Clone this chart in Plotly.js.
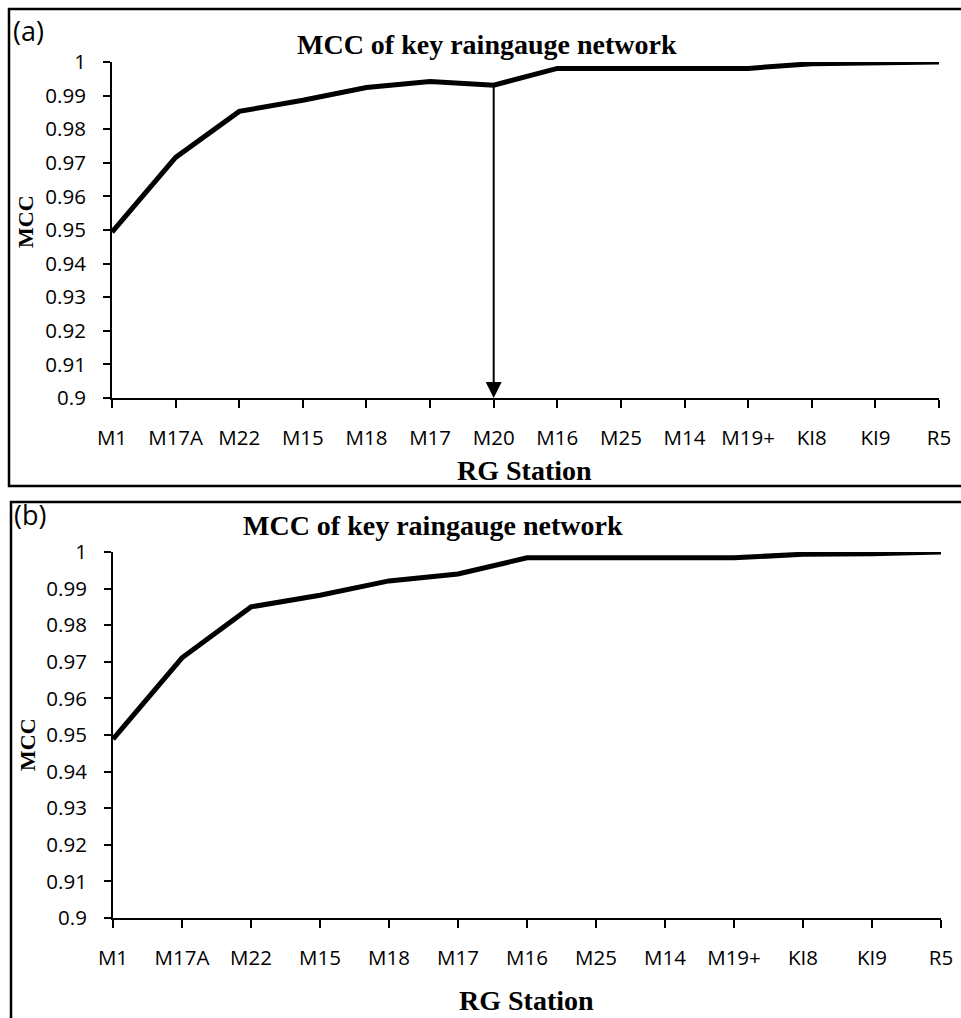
<!DOCTYPE html>
<html>
<head>
<meta charset="utf-8">
<script src="https://cdn.plot.ly/plotly-3.0.1.min.js"></script>
<style>html,body{margin:0;padding:0;background:#fff;}#chart{width:961px;height:1018px;}</style>
</head>
<body>
<div id="chart"></div>
<script>
// ---- data ----
const stationsA = ['M1','M17A','M22','M15','M18','M17','M20','M16','M25','M14','M19+','KI8','KI9','R5'];
const mccA = [0.9494, 0.9716, 0.9853, 0.9886, 0.9924, 0.9942, 0.9931, 0.9981, 0.9981, 0.9981, 0.9981, 0.9995, 0.9996, 1.0];
const stationsB = ['M1','M17A','M22','M15','M18','M17','M16','M25','M14','M19+','KI8','KI9','R5'];
const mccB = [0.9489, 0.9711, 0.9850, 0.9882, 0.9921, 0.9940, 0.9984, 0.9984, 0.9984, 0.9984, 0.9994, 0.9995, 1.0];
const yTickVals = [0.9, 0.91, 0.92, 0.93, 0.94, 0.95, 0.96, 0.97, 0.98, 0.99, 1];
const yTickText = ['0.9','0.91','0.92','0.93','0.94','0.95','0.96','0.97','0.98','0.99','1'];
const arrowStation = 'M20';
const chartTitle = 'MCC of key raingauge network';
const xTitle = 'RG Station';
const yTitle = 'MCC';

// ---- layout helpers ----
const W = 961, H = 1018;
const px = p => p / W;
const py = p => 1 - p / H;

const tickFont = {family: 'Open Sans, sans-serif', size: 20.5, color: '#000'};
const serifBold = {family: 'Liberation Serif, Times New Roman, serif', size: 28, color: '#000'};
const yTitleFont = {family: 'Liberation Serif, Times New Roman, serif', size: 22, color: '#000'};
const labelFont = {family: 'Open Sans, sans-serif', size: 27, color: '#000'};

function xAx(domain, n, anchor) {
  return {
    domain: domain, anchor: anchor, type: 'category', range: [0, n - 1],
    showline: true, linecolor: '#000', linewidth: 2,
    ticks: 'outside', ticklen: 8, tickwidth: 2, tickcolor: '#000',
    ticklabelstandoff: 12,
    showgrid: false, zeroline: false, tickfont: tickFont, fixedrange: true
  };
}
function yAx(domain, anchor) {
  return {
    domain: domain, anchor: anchor, range: [0.9, 1],
    tickvals: yTickVals, ticktext: yTickText,
    showline: true, linecolor: '#000', linewidth: 2,
    ticks: 'outside', ticklen: 7, tickwidth: 2, tickcolor: '#000',
    ticklabelstandoff: 13,
    showgrid: false, zeroline: false, tickfont: tickFont, fixedrange: true
  };
}

const traces = [
  {x: stationsA, y: mccA, xaxis: 'x', yaxis: 'y', type: 'scatter', mode: 'lines',
   line: {color: '#000', width: 5}, hoverinfo: 'x+y'},
  {x: stationsB, y: mccB, xaxis: 'x2', yaxis: 'y2', type: 'scatter', mode: 'lines',
   line: {color: '#000', width: 5}, hoverinfo: 'x+y'}
];

const idxArrow = stationsA.indexOf(arrowStation);

const layout = {
  width: W, height: H,
  margin: {l: 0, r: 0, t: 0, b: 0},
  paper_bgcolor: '#fff', plot_bgcolor: 'rgba(0,0,0,0)',
  showlegend: false,
  xaxis: xAx([px(112), px(939)], stationsA.length, 'y'),
  yaxis: yAx([py(398), py(62)], 'x'),
  xaxis2: xAx([px(113), px(941)], stationsB.length, 'y2'),
  yaxis2: yAx([py(918), py(552)], 'x2'),
  shapes: [
    {type: 'rect', xref: 'paper', yref: 'paper', x0: px(9), x1: px(975), y0: py(486), y1: py(9),
     line: {color: '#000', width: 2.5}},
    {type: 'rect', xref: 'paper', yref: 'paper', x0: px(11), x1: px(975), y0: py(1040), y1: py(502),
     line: {color: '#000', width: 2.5}}
  ],
  annotations: [
    // arrow in panel (a)
    {xref: 'x', yref: 'y', axref: 'x', ayref: 'y',
     x: idxArrow, y: 0.9, ax: idxArrow, ay: mccA[idxArrow],
     text: '', showarrow: true, arrowhead: 2, arrowsize: 1.6, arrowwidth: 2, arrowcolor: '#000',
     standoff: 0, startstandoff: 0},
    // panel labels
    {xref: 'paper', yref: 'paper', x: px(11), y: py(31), xanchor: 'left', yanchor: 'middle',
     text: '(a)', showarrow: false, font: labelFont},
    {xref: 'paper', yref: 'paper', x: px(12), y: py(514), xanchor: 'left', yanchor: 'middle',
     text: '(b)', showarrow: false, font: labelFont},
    // chart titles
    {xref: 'paper', yref: 'paper', x: px(487), y: py(44), xanchor: 'center', yanchor: 'middle',
     text: '<b>' + chartTitle + '</b>', showarrow: false, font: serifBold},
    {xref: 'paper', yref: 'paper', x: px(433), y: py(525), xanchor: 'center', yanchor: 'middle',
     text: '<b>' + chartTitle + '</b>', showarrow: false, font: serifBold},
    // x axis titles
    {xref: 'paper', yref: 'paper', x: px(524), y: py(470), xanchor: 'center', yanchor: 'middle',
     text: '<b>' + xTitle + '</b>', showarrow: false, font: serifBold},
    {xref: 'paper', yref: 'paper', x: px(526), y: py(1000), xanchor: 'center', yanchor: 'middle',
     text: '<b>' + xTitle + '</b>', showarrow: false, font: serifBold},
    // y axis titles
    {xref: 'paper', yref: 'paper', x: px(25), y: py(222), xanchor: 'center', yanchor: 'middle',
     text: '<b>' + yTitle + '</b>', textangle: -90, showarrow: false, font: yTitleFont},
    {xref: 'paper', yref: 'paper', x: px(27), y: py(745), xanchor: 'center', yanchor: 'middle',
     text: '<b>' + yTitle + '</b>', textangle: -90, showarrow: false, font: yTitleFont}
  ]
};

Plotly.newPlot('chart', traces, layout, {displayModeBar: false, staticPlot: true});
</script>
</body>
</html>
